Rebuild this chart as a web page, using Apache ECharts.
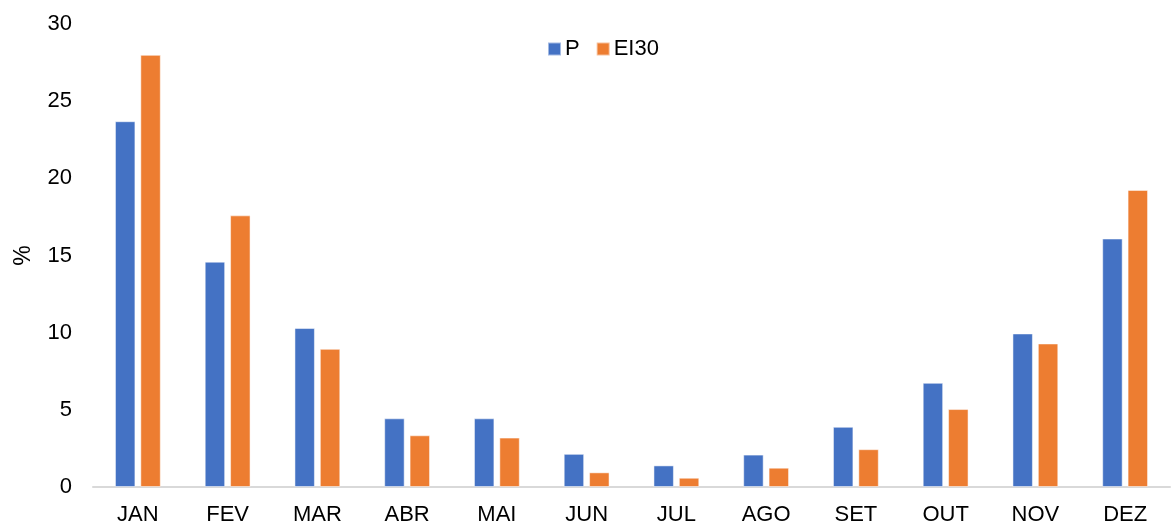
<!DOCTYPE html>
<html>
<head>
<meta charset="utf-8">
<script src="https://cdn.jsdelivr.net/npm/echarts@6/dist/echarts.min.js"></script>
<style>
  html, body { margin: 0; padding: 0; background: #fff; }
  #chart { width: 1173px; height: 528px; }
</style>
</head>
<body>
<div id="chart"></div>
<script>
// Monthly share (%) of precipitation (P) and erosivity (EI30)
const months = ['JAN', 'FEV', 'MAR', 'ABR', 'MAI', 'JUN', 'JUL', 'AGO', 'SET', 'OUT', 'NOV', 'DEZ']
const pValues = [23.7, 14.6, 10.3, 4.45, 4.45, 2.15, 1.4, 2.1, 3.9, 6.75, 9.95, 16.1]
const ei30Values = [28.0, 17.6, 8.95, 3.35, 3.2, 0.95, 0.6, 1.25, 2.45, 5.05, 9.3, 19.25]
const yTicks = { min: 0, max: 30, interval: 5 }

const chart = echarts.init(document.getElementById('chart'))

const font = 'Liberation Sans, Arial, sans-serif'

const option = {
  animation: false,
  backgroundColor: '#fff',
  textStyle: { fontFamily: font },
  legend: {
    data: ['P', 'EI30'],
    left: 542,
    top: 33,
    padding: 5,
    itemWidth: 13,
    itemHeight: 13,
    itemGap: 16,
    icon: 'rect',
    textStyle: { fontSize: 22, color: '#000', fontFamily: font, padding: [0, 0, 0, -1] },
  },
  grid: {
    left: 93,
    right: 3,
    top: 24,
    bottom: 41,
    containLabel: false,
  },
  xAxis: {
    type: 'category',
    data: months,
    axisLine: { lineStyle: { color: '#d9d9d9', width: 2 } },
    axisTick: { show: false },
    axisLabel: { color: '#000', fontSize: 22, margin: 17, fontFamily: font },
  },
  yAxis: {
    type: 'value',
    min: yTicks.min,
    max: yTicks.max,
    interval: yTicks.interval,
    name: '%',
    nameLocation: 'middle',
    nameRotate: 90,
    nameGap: 58,
    nameTextStyle: { color: '#000', fontSize: 23, fontFamily: font },
    axisLine: { show: false },
    axisTick: { show: false },
    splitLine: { show: false },
    axisLabel: { color: '#000', fontSize: 22, margin: 21, fontFamily: font },
  },
  series: [
    {
      name: 'P',
      type: 'bar',
      data: pValues,
      barWidth: '22.8%',
      barGap: '24%',
      itemStyle: { color: '#4472C4', borderColor: 'rgba(255,255,255,0.5)', borderWidth: 1 },
    },
    {
      name: 'EI30',
      type: 'bar',
      data: ei30Values,
      barWidth: '22.8%',
      itemStyle: { color: '#ED7D31', borderColor: 'rgba(255,255,255,0.5)', borderWidth: 1 },
    },
  ],
}

chart.setOption(option)
</script>
</body>
</html>
